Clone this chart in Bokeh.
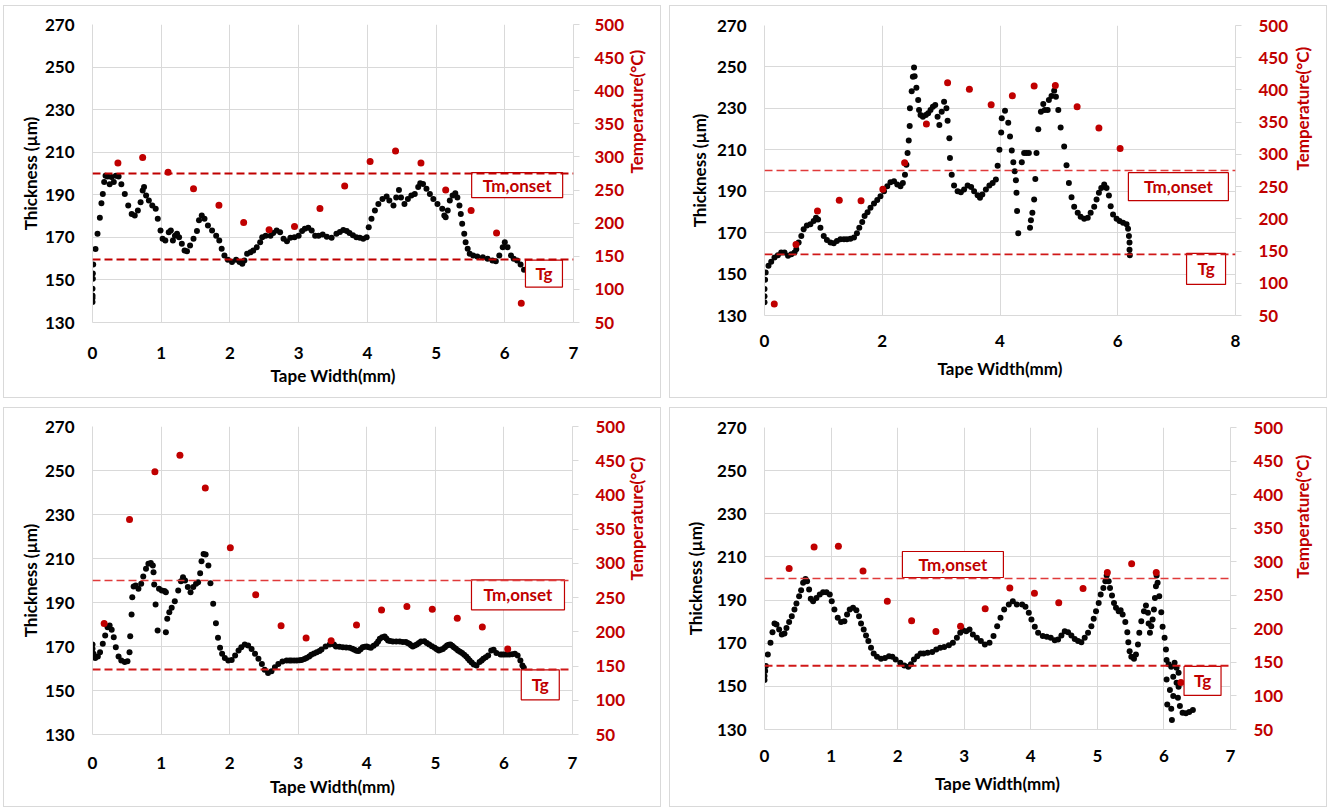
import math
from bokeh.plotting import figure
from bokeh.models import Range1d, LinearAxis, Span, FixedTicker
from bokeh.layouts import column, row
from bokeh.embed import file_html
from bokeh.resources import INLINE
from bokeh.core.properties import value

# ---------------- data ----------------
thick_ticks = [130, 150, 170, 190, 210, 230, 250, 270]
temp_ticks = [50, 100, 150, 200, 250, 300, 350, 400, 450, 500]
x_ticks_7 = [0, 1, 2, 3, 4, 5, 6, 7]
x_ticks_8 = [0, 2, 4, 6, 8]
tm_onset = 275
tg = 145

# panel 1 (top left)
p1_width = [0.0, 0.0, 0.0, 0.0, 0.005, 0.005, 0.01, 0.044, 0.073, 0.107, 0.13, 0.15, 0.17, 0.19, 0.22, 0.25, 0.276, 0.31, 0.34, 0.38, 0.42, 0.47, 0.52, 0.57, 0.615, 0.66, 0.70, 0.73, 0.75, 0.78, 0.82, 0.87, 0.92, 0.95, 0.99, 1.02, 1.06, 1.11, 1.14, 1.17, 1.20, 1.23, 1.26, 1.30, 1.34, 1.375, 1.42, 1.47, 1.52, 1.55, 1.59, 1.63, 1.68, 1.74, 1.80, 1.845, 1.88, 1.92, 1.97, 2.03, 2.09, 2.14, 2.18, 2.21, 2.25, 2.30, 2.34, 2.39, 2.44, 2.47, 2.52, 2.59, 2.63, 2.68, 2.73, 2.78, 2.83, 2.88, 2.94, 3.00, 3.05, 3.09, 3.14, 3.19, 3.24, 3.29, 3.35, 3.41, 3.48, 3.55, 3.60, 3.65, 3.70, 3.74, 3.79, 3.84, 3.89, 3.94, 3.99, 4.02, 4.06, 4.11, 4.16, 4.22, 4.28, 4.32, 4.38, 4.42, 4.46, 4.49, 4.54, 4.59, 4.64, 4.69, 4.74, 4.77, 4.81, 4.86, 4.91, 4.96, 5.02, 5.09, 5.12, 5.14, 5.17, 5.20, 5.24, 5.28, 5.31, 5.34, 5.36, 5.38, 5.41, 5.43, 5.46, 5.49, 5.54, 5.60, 5.68, 5.75, 5.82, 5.87, 5.92, 5.97, 6.00, 6.04, 6.09, 6.13, 6.18, 6.23, 6.28]
p1_thick = [139.6, 141.5, 142.7, 145.8, 150.5, 153.0, 157.3, 164.5, 171.7, 179.2, 186.0, 190.4, 196.0, 199.0, 198.6, 195.0, 198.3, 196.0, 199.0, 198.6, 195.0, 190.4, 185.0, 181.0, 180.3, 182.6, 186.5, 192.0, 193.6, 189.7, 187.3, 185.0, 183.4, 178.7, 173.2, 169.3, 168.5, 172.4, 173.2, 168.5, 170.8, 171.7, 170.0, 167.0, 163.8, 163.5, 166.2, 169.3, 173.0, 178.0, 180.3, 178.7, 175.6, 173.2, 170.8, 168.5, 164.6, 161.5, 159.5, 158.4, 159.5, 158.4, 157.6, 159.1, 162.3, 163.0, 163.8, 165.4, 167.7, 170.0, 170.8, 170.8, 172.0, 173.2, 172.4, 169.3, 168.2, 169.8, 170.0, 170.8, 173.0, 174.0, 174.5, 173.2, 170.8, 170.8, 171.3, 170.3, 169.8, 171.7, 172.5, 173.5, 173.0, 172.0, 171.0, 170.0, 169.8, 169.3, 170.0, 174.8, 178.7, 182.6, 185.7, 188.0, 189.2, 187.3, 185.0, 188.7, 192.3, 188.7, 185.7, 188.0, 189.7, 190.4, 193.6, 195.4, 195.1, 192.8, 190.4, 188.0, 185.7, 183.4, 180.3, 179.5, 182.6, 187.3, 189.7, 190.7, 188.7, 185.0, 181.0, 176.4, 171.7, 167.7, 164.6, 162.3, 161.5, 161.0, 160.7, 160.0, 159.1, 158.8, 161.5, 165.4, 167.7, 165.4, 161.5, 160.0, 159.1, 157.3, 154.8]
p1_temp_width = [0.37, 0.73, 1.10, 1.47, 1.84, 2.20, 2.57, 2.94, 3.31, 3.67, 4.04, 4.41, 4.78, 5.14, 5.51, 5.88, 6.24]
p1_temp = [291, 299, 277, 252, 227, 201, 190, 195, 222, 256, 293, 309, 291, 250, 219, 185, 79]

# panel 2 (top right)
p2_width = [0.0, 0.0, 0.0, 0.01, 0.02, 0.068, 0.114, 0.17, 0.227, 0.284, 0.34, 0.40, 0.455, 0.51, 0.54, 0.58, 0.625, 0.665, 0.72, 0.78, 0.835, 0.875, 0.91, 0.95, 1.006, 1.06, 1.12, 1.176, 1.23, 1.29, 1.35, 1.40, 1.46, 1.52, 1.57, 1.61, 1.66, 1.70, 1.75, 1.80, 1.86, 1.915, 1.97, 2.03, 2.085, 2.14, 2.20, 2.255, 2.31, 2.35, 2.386, 2.41, 2.43, 2.45, 2.466, 2.47, 2.50, 2.52, 2.54, 2.55, 2.58, 2.61, 2.625, 2.65, 2.69, 2.74, 2.78, 2.82, 2.86, 2.90, 2.94, 2.97, 3.01, 3.05, 3.09, 3.11, 3.14, 3.15, 3.18, 3.22, 3.28, 3.335, 3.39, 3.45, 3.51, 3.56, 3.62, 3.66, 3.70, 3.76, 3.82, 3.875, 3.93, 3.96, 3.99, 4.02, 4.03, 4.085, 4.14, 4.17, 4.20, 4.226, 4.25, 4.27, 4.28, 4.29, 4.31, 4.37, 4.41, 4.45, 4.49, 4.51, 4.525, 4.55, 4.58, 4.60, 4.62, 4.65, 4.695, 4.735, 4.76, 4.81, 4.83, 4.875, 4.92, 4.95, 4.99, 5.03, 5.09, 5.13, 5.17, 5.215, 5.26, 5.32, 5.37, 5.43, 5.49, 5.54, 5.60, 5.64, 5.68, 5.72, 5.77, 5.81, 5.85, 5.88, 5.92, 5.98, 6.03, 6.09, 6.15, 6.175, 6.19, 6.20, 6.20, 6.205]
p2_thick = [136.4, 139.3, 142.8, 147.3, 150.8, 154.0, 155.9, 158.0, 159.1, 160.4, 160.4, 158.8, 159.6, 160.4, 162.0, 165.2, 168.4, 171.6, 173.5, 174.0, 175.6, 177.2, 176.4, 172.4, 168.4, 166.5, 165.2, 164.9, 166.0, 166.8, 166.8, 166.8, 167.1, 167.6, 169.7, 172.4, 175.1, 178.0, 179.9, 182.0, 184.1, 185.7, 187.6, 190.0, 192.4, 194.3, 194.8, 193.2, 192.4, 194.0, 198.0, 202.8, 208.4, 214.5, 221.5, 230.0, 238.2, 245.2, 249.7, 245.5, 240.0, 234.0, 229.2, 226.8, 226.0, 226.8, 227.6, 229.2, 230.8, 231.6, 226.0, 222.0, 228.4, 233.2, 230.0, 224.0, 215.6, 206.0, 198.0, 192.7, 190.0, 189.5, 190.8, 192.7, 192.0, 190.0, 188.0, 186.8, 188.4, 190.8, 192.7, 194.0, 195.6, 202.3, 210.0, 218.3, 225.2, 228.9, 223.0, 216.4, 209.7, 204.0, 199.6, 195.3, 189.2, 180.4, 169.7, 204.0, 208.4, 208.4, 208.4, 172.4, 176.0, 179.6, 186.0, 195.9, 208.4, 219.9, 228.4, 232.1, 229.2, 229.2, 234.0, 236.0, 238.5, 235.6, 229.2, 220.7, 211.6, 202.5, 194.0, 187.1, 182.5, 179.6, 177.7, 176.7, 177.2, 179.6, 182.5, 186.0, 189.2, 191.6, 193.2, 191.6, 187.9, 182.8, 178.8, 176.7, 175.6, 174.8, 174.0, 171.9, 168.4, 165.2, 161.7, 159.1]
p2_temp_width = [0.166, 0.535, 0.90, 1.27, 1.64, 2.01, 2.38, 2.75, 3.11, 3.48, 3.85, 4.21, 4.58, 4.94, 5.31, 5.68, 6.04]
p2_temp = [68, 160, 212, 229, 228, 246, 287, 347, 411, 401, 377, 391, 406, 407, 374, 341, 309]

# panel 3 (bottom left)
p3_width = [0.0, 0.0, 0.015, 0.04, 0.078, 0.11, 0.15, 0.185, 0.22, 0.25, 0.28, 0.31, 0.34, 0.38, 0.42, 0.47, 0.51, 0.54, 0.55, 0.57, 0.58, 0.60, 0.63, 0.67, 0.71, 0.74, 0.78, 0.815, 0.85, 0.88, 0.89, 0.90, 0.92, 0.95, 0.97, 1.01, 1.05, 1.07, 1.07, 1.09, 1.12, 1.155, 1.20, 1.25, 1.29, 1.32, 1.35, 1.39, 1.43, 1.47, 1.51, 1.54, 1.57, 1.59, 1.62, 1.65, 1.69, 1.72, 1.76, 1.80, 1.83, 1.86, 1.89, 1.93, 1.98, 2.03, 2.08, 2.13, 2.17, 2.22, 2.27, 2.32, 2.37, 2.42, 2.47, 2.51, 2.56, 2.61, 2.66, 2.71, 2.77, 2.83, 2.87, 2.90, 2.94, 2.98, 3.02, 3.05, 3.09, 3.12, 3.16, 3.19, 3.23, 3.27, 3.31, 3.34, 3.40, 3.46, 3.52, 3.55, 3.60, 3.65, 3.70, 3.75, 3.79, 3.82, 3.85, 3.88, 3.91, 3.94, 3.97, 4.00, 4.03, 4.06, 4.10, 4.14, 4.165, 4.19, 4.225, 4.26, 4.285, 4.31, 4.34, 4.38, 4.43, 4.48, 4.525, 4.57, 4.595, 4.62, 4.645, 4.67, 4.70, 4.73, 4.76, 4.79, 4.84, 4.875, 4.91, 4.95, 4.99, 5.02, 5.05, 5.08, 5.11, 5.14, 5.17, 5.195, 5.22, 5.245, 5.27, 5.30, 5.33, 5.36, 5.39, 5.42, 5.45, 5.475, 5.50, 5.53, 5.56, 5.60, 5.645, 5.675, 5.70, 5.735, 5.77, 5.815, 5.85, 5.89, 5.95, 5.98, 6.01, 6.045, 6.08, 6.12, 6.16, 6.20, 6.24, 6.27, 6.29]
p3_thick = [170.9, 169.0, 166.7, 164.8, 165.5, 167.4, 171.2, 175.0, 178.8, 179.5, 177.6, 174.2, 169.7, 165.5, 163.6, 162.9, 163.3, 167.4, 174.7, 184.5, 192.4, 197.3, 197.7, 196.2, 198.5, 201.8, 205.3, 207.6, 207.9, 206.8, 203.8, 198.2, 189.1, 177.3, 196.2, 195.5, 195.2, 194.7, 176.5, 182.6, 185.6, 187.6, 190.6, 195.5, 199.7, 201.5, 200.0, 197.0, 194.7, 197.0, 198.5, 199.2, 203.3, 208.8, 212.1, 211.8, 206.8, 198.8, 189.4, 180.6, 174.0, 169.4, 166.7, 164.8, 163.6, 163.9, 165.9, 168.2, 169.7, 170.9, 170.5, 168.9, 166.7, 164.4, 162.1, 159.4, 158.0, 158.8, 160.6, 162.1, 163.2, 163.6, 163.6, 163.6, 163.6, 163.6, 163.7, 163.9, 164.3, 164.8, 165.5, 166.2, 166.8, 167.4, 168.0, 168.6, 170.0, 170.9, 170.9, 170.0, 169.9, 169.7, 169.6, 169.4, 169.0, 168.5, 168.1, 167.9, 168.8, 169.7, 169.9, 170.0, 169.7, 169.4, 170.3, 171.2, 172.3, 173.5, 174.2, 174.5, 173.6, 172.7, 172.5, 172.3, 172.3, 172.3, 172.1, 172.0, 171.6, 171.2, 170.6, 170.0, 170.4, 170.9, 171.6, 172.3, 172.4, 171.6, 170.9, 170.1, 169.4, 168.8, 168.2, 168.5, 168.9, 169.7, 170.5, 170.8, 170.9, 170.3, 169.7, 169.0, 168.2, 167.6, 167.0, 166.3, 165.5, 164.5, 163.6, 162.7, 161.8, 161.4, 162.9, 163.6, 164.4, 165.1, 165.9, 168.2, 168.5, 167.0, 166.4, 166.4, 166.4, 166.4, 166.4, 166.5, 166.7, 165.9, 163.6, 161.4, 160.3]
p3_temp_width = [0.17, 0.54, 0.91, 1.275, 1.645, 2.01, 2.38, 2.75, 3.115, 3.48, 3.85, 4.215, 4.585, 4.955, 5.32, 5.685, 6.055]
p3_temp = [212, 364, 434, 458, 410, 323, 254, 209, 191, 187, 210, 232, 237, 233, 220, 207, 175]

# panel 4 (bottom right)
p4_width = [0.0, 0.0, 0.01, 0.02, 0.05, 0.09, 0.12, 0.15, 0.18, 0.22, 0.26, 0.30, 0.33, 0.37, 0.41, 0.45, 0.48, 0.52, 0.55, 0.58, 0.616, 0.64, 0.67, 0.695, 0.73, 0.78, 0.83, 0.88, 0.93, 0.98, 1.01, 1.05, 1.10, 1.15, 1.20, 1.24, 1.28, 1.33, 1.38, 1.42, 1.45, 1.49, 1.525, 1.56, 1.60, 1.64, 1.69, 1.75, 1.81, 1.87, 1.92, 1.97, 2.04, 2.10, 2.16, 2.20, 2.245, 2.295, 2.345, 2.39, 2.45, 2.52, 2.58, 2.64, 2.70, 2.77, 2.83, 2.89, 2.94, 2.98, 3.03, 3.08, 3.13, 3.19, 3.25, 3.31, 3.38, 3.44, 3.495, 3.545, 3.60, 3.67, 3.73, 3.79, 3.87, 3.92, 3.97, 4.01, 4.06, 4.11, 4.18, 4.24, 4.30, 4.36, 4.41, 4.46, 4.51, 4.56, 4.61, 4.66, 4.71, 4.76, 4.81, 4.86, 4.91, 4.945, 4.98, 5.02, 5.05, 5.09, 5.12, 5.14, 5.17, 5.19, 5.22, 5.25, 5.28, 5.32, 5.35, 5.38, 5.42, 5.45, 5.465, 5.485, 5.51, 5.55, 5.58, 5.61, 5.63, 5.66, 5.70, 5.73, 5.76, 5.77, 5.79, 5.81, 5.83, 5.85, 5.865, 5.88, 5.89, 5.905, 5.93, 5.96, 5.98, 6.01, 6.03, 6.04, 6.07, 6.11, 6.16, 6.19, 6.22, 6.14, 6.04, 6.09, 6.14, 6.05, 6.11, 6.12, 6.21, 6.24, 6.28, 6.33, 6.38, 6.435, 6.19, 6.22]
p4_thick = [152.9, 154.8, 157.1, 159.4, 164.8, 170.2, 175.1, 179.1, 178.7, 176.4, 174.0, 174.5, 177.1, 179.8, 182.5, 185.6, 188.4, 191.8, 194.6, 198.0, 199.8, 198.7, 194.9, 190.6, 189.5, 191.0, 192.6, 193.6, 193.6, 192.6, 189.5, 185.6, 181.8, 179.8, 180.2, 183.3, 185.6, 186.4, 185.3, 182.5, 179.1, 176.4, 173.6, 171.0, 167.9, 165.2, 163.7, 162.8, 163.2, 164.0, 163.7, 162.5, 160.9, 159.7, 159.1, 160.2, 162.5, 164.0, 165.2, 165.2, 165.6, 165.9, 167.1, 167.9, 168.3, 169.0, 170.2, 172.5, 174.8, 176.0, 175.6, 176.4, 174.0, 172.5, 171.0, 169.4, 170.2, 173.3, 177.9, 181.8, 185.6, 187.9, 189.5, 187.9, 187.9, 186.9, 184.1, 181.0, 177.6, 174.8, 173.3, 173.0, 172.5, 171.4, 171.7, 173.6, 175.6, 175.1, 173.6, 172.0, 171.0, 170.5, 172.5, 174.8, 177.9, 181.3, 184.8, 188.7, 192.6, 195.6, 198.7, 201.4, 198.7, 195.6, 192.1, 188.7, 186.4, 184.8, 185.3, 183.3, 179.8, 175.1, 170.5, 166.3, 163.7, 162.8, 164.8, 169.4, 174.8, 180.2, 184.8, 187.5, 184.1, 179.1, 174.8, 177.9, 181.0, 185.6, 191.0, 196.4, 201.4, 198.0, 191.8, 184.4, 177.6, 172.5, 167.1, 162.2, 160.2, 159.1, 160.9, 158.6, 156.3, 154.4, 153.2, 148.3, 145.5, 141.6, 139.6, 134.4, 144.7, 140.9, 137.8, 137.5, 138.1, 139.0, 151.7, 149.8]
p4_temp_width = [0.37, 0.745, 1.11, 1.48, 1.845, 2.21, 2.575, 2.945, 3.315, 3.685, 4.055, 4.42, 4.785, 5.15, 5.515, 5.885, 6.255]
p4_temp = [290, 322, 323, 286, 241, 212, 196, 204, 230, 261, 253, 239, 260, 284, 297, 284, 120]

x_title = "Tape Width(mm)"
y_title = "Thickness (µm)"
y2_title = "Temperature(°C)"

# ---------------- styling ----------------
RED = "#c00000"
GRID = "#d9d9d9"
FONT = "Lato"


def make_panel(xs, ys, txs, tvs, xmax, xticks, w, h, borders, tm_box, tg_box,
               tm_w, tg_w, tm_col, tg_col, stand):
    bl, br, bt, bb = borders
    left_title_so, right_label_so, right_title_so, bottom_label_so, bottom_title_so = stand
    p = figure(width=w, height=h, x_range=Range1d(0, xmax), y_range=Range1d(130, 270),
               output_backend="svg", toolbar_location=None, title=None,
               min_border_left=bl, min_border_right=br, min_border_top=bt, min_border_bottom=bb,
               outline_line_color=None, background_fill_color="white",
               border_fill_color="white", styles={"outline": "1px solid #d9d9d9"})
    p.extra_y_ranges = {"temp": Range1d(50, 500)}

    p.xaxis.ticker = FixedTicker(ticks=xticks)
    p.yaxis.ticker = FixedTicker(ticks=thick_ticks)
    p.xgrid.ticker = FixedTicker(ticks=xticks)
    p.ygrid.ticker = FixedTicker(ticks=thick_ticks)
    p.grid.grid_line_color = GRID
    p.grid.grid_line_width = 1

    for ax in (p.xaxis[0], p.yaxis[0]):
        ax.axis_line_color = GRID
        ax.major_tick_line_color = None
        ax.major_tick_out = 0
        ax.major_tick_in = 0
        ax.minor_tick_line_color = None
        ax.minor_tick_out = 0
        ax.major_label_text_font = FONT
        ax.major_label_text_font_style = "bold"
        ax.major_label_text_font_size = "17px"
        ax.major_label_text_color = "#000000"
        ax.axis_label_text_font = FONT
        ax.axis_label_text_font_style = "bold"
        ax.axis_label_text_font_size = "17px"
        ax.axis_label_text_color = "#000000"
    p.xaxis.axis_label = x_title
    p.yaxis.axis_label = y_title
    p.xaxis.major_label_standoff = bottom_label_so
    p.xaxis.axis_label_standoff = bottom_title_so
    p.yaxis.major_label_standoff = 18
    p.yaxis.axis_label_standoff = left_title_so

    rax = LinearAxis(y_range_name="temp", ticker=FixedTicker(ticks=temp_ticks),
                     axis_label=y2_title)
    rax.axis_line_color = GRID
    rax.major_tick_line_color = GRID
    rax.major_tick_out = 6
    rax.major_tick_in = 0
    rax.minor_tick_line_color = None
    rax.minor_tick_out = 0
    rax.major_label_text_font = FONT
    rax.major_label_text_font_style = "bold"
    rax.major_label_text_font_size = "17px"
    rax.major_label_text_color = RED
    rax.major_label_standoff = right_label_so
    rax.axis_label_text_font = FONT
    rax.axis_label_text_font_style = "bold"
    rax.axis_label_text_font_size = "17px"
    rax.axis_label_text_color = RED
    rax.axis_label_standoff = right_title_so
    if "axis_label_orientation" in rax.properties():
        rax.axis_label_orientation = math.pi / 2
    p.add_layout(rax, "right")

    p.add_layout(Span(location=tm_onset, dimension="width", y_range_name="temp",
                      line_color=tm_col, line_dash="8 4", line_width=tm_w))
    p.add_layout(Span(location=tg, dimension="width", y_range_name="temp",
                      line_color=tg_col, line_dash="8 4", line_width=tg_w))

    p.scatter(xs, ys, size=6, color="#050505", line_color=None)
    p.scatter(txs, tvs, size=7, color=RED, line_color=None, y_range_name="temp")

    for (bx, by, bw, bh, txt) in (tm_box + ("Tm,onset",), tg_box + ("Tg",)):
        p.rect(x=[bx], y=[by], width=bw, height=bh, width_units="screen", height_units="screen",
               fill_color="white", line_color=RED, line_width=1.2)
        p.text(x=[bx], y=[by], text=[txt], text_align="center", text_baseline="middle",
               text_font=value(FONT), text_font_style="bold", text_font_size="17px",
               text_color=RED)
    return p


p1 = make_panel(p1_width, p1_thick, p1_temp_width, p1_temp, 7, x_ticks_7, 656, 391,
                (88, 83, 18, 75), (6.18, 194.5, 91, 25), (6.57, 153.0, 37, 27),
                2.0, 2.0, RED, RED, (1, 15, 9, 24, 3))
p2 = make_panel(p2_width, p2_thick, p2_temp_width, p2_temp, 8, x_ticks_8, 656, 391,
                (94, 90, 19, 82), (7.03, 192.2, 100, 28), (7.5, 152.5, 39, 31),
                1.3, 1.8, "#e03a3a", "#d01818", (4, 17, 11, 19, 8))
p3 = make_panel(p3_width, p3_thick, p3_temp_width, p3_temp, 7, x_ticks_7, 656, 398,
                (88, 86, 18, 72), (6.205, 193.5, 93, 30), (6.53, 152.6, 38, 30),
                1.3, 1.8, "#e03a3a", "#d01818", (1, 17, 8, 22, 4))
p4 = make_panel(p4_width, p4_thick, p4_temp_width, p4_temp, 7, x_ticks_7, 656, 398,
                (94, 91, 19, 77), (2.83, 206.5, 101, 26), (6.58, 152.5, 37, 29),
                1.3, 1.8, "#e03a3a", "#d01818", (8, 17, 16, 20, 8))

c1 = column(p1, margin=(6, 5, 0, 4))
c2 = column(p2, margin=(6, 0, 0, 5))
c3 = column(p3, margin=(11, 5, 0, 4))
c4 = column(p4, margin=(11, 0, 0, 5))

layout = column(row(c1, c2), row(c3, c4))
open("out.html", "w").write(file_html(layout, INLINE))
